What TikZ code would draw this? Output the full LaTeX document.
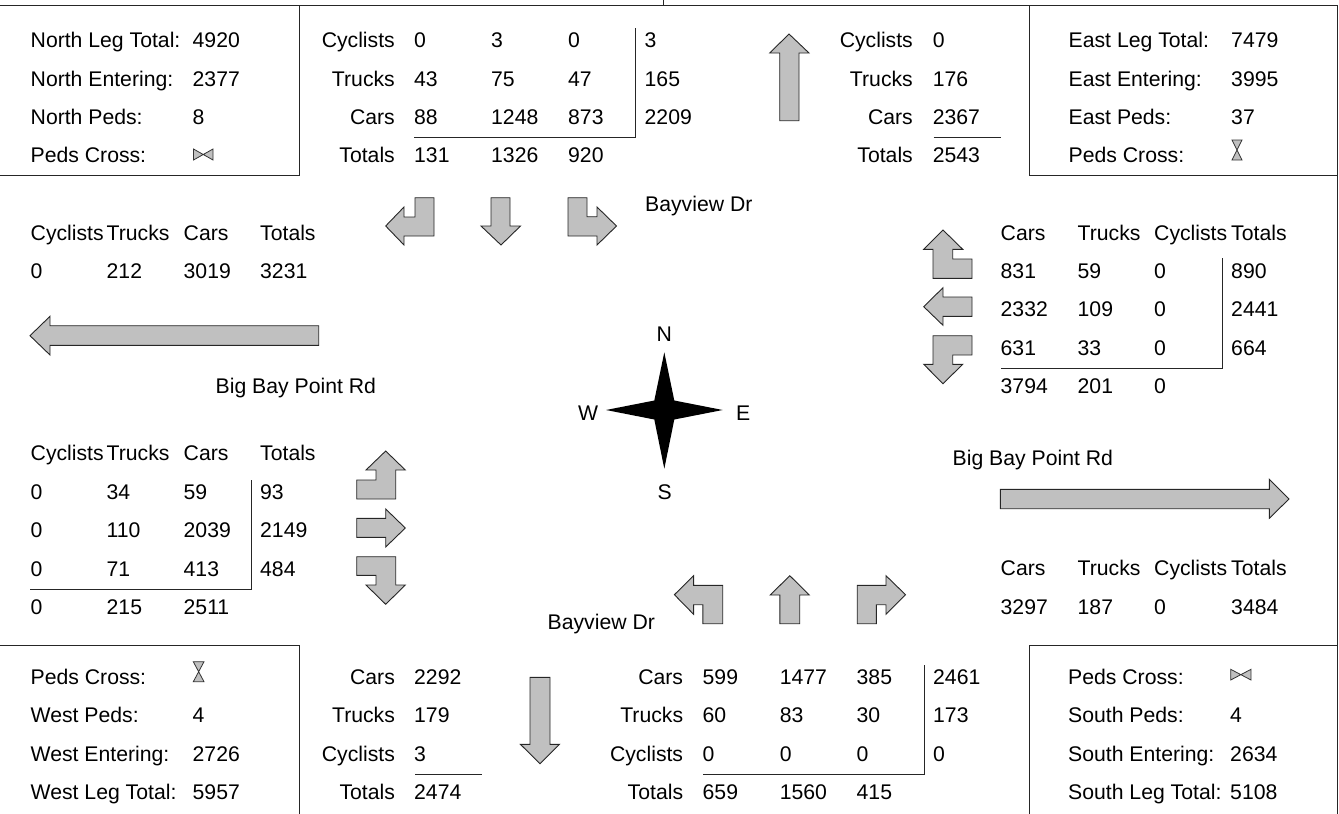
\documentclass[tikz,border=0pt]{standalone}
\usepackage{fontspec}
\setmainfont{Liberation Sans}
\definecolor{arrowgray}{RGB}{192,192,192}
\tikzset{
  L/.style={inner sep=0pt,anchor=base west,font=\fontsize{21.2}{24}\selectfont},
  R/.style={inner sep=0pt,anchor=base east,font=\fontsize{21.2}{24}\selectfont},
  arrowshape/.style={draw=black!85,fill=arrowgray,line width=0.9pt,line join=miter},
  rulei/.style={draw=black!85,line width=0.9pt},
  symb/.style={draw=black!80,fill=arrowgray,line width=0.8pt}
}
\newcommand{\T}[3]{\node[L] at (#1-1,#2) {#3};}
\newcommand{\Rt}[3]{\node[R] at (#1,#2) {#3};}
\begin{document}
\begin{tikzpicture}[x=1pt,y=-1pt]
\useasboundingbox (0,0) rectangle (1339,814);
% frame
\draw[rulei] (0,5) -- (1337.4,5) -- (1337.4,814);
\draw[rulei] (663,0) -- (663,5);
\draw[rulei] (0,175) -- (299.5,175) -- (299.5,5);
\draw[rulei] (1029.5,5) -- (1029.5,175) -- (1337.4,175);
\draw[rulei] (0,645.7) -- (299.5,645.7) -- (299.5,814);
\draw[rulei] (1029.5,814) -- (1029.5,645.7) -- (1337.4,645.7);
% NW box
\T{31.5}{47.6}{North Leg Total:}\T{193.5}{47.6}{4920}
\T{31.5}{86}{North Entering:}\T{193.5}{86}{2377}
\T{31.5}{124.3}{North Peds:}\T{193.5}{124.3}{8}
\T{31.5}{162.6}{Peds Cross:}
\draw[symb] (193.5,149) -- (213,160) -- (213,149) -- (193.5,160) -- cycle;
% N table
\Rt{395}{47.6}{Cyclists}\T{415}{47.6}{0}\T{492}{47.6}{3}\T{569}{47.6}{0}\T{645.5}{47.6}{3}
\Rt{395}{86}{Trucks}\T{415}{86}{43}\T{492}{86}{75}\T{569}{86}{47}\T{645.5}{86}{165}
\Rt{395}{124.3}{Cars}\T{415}{124.3}{88}\T{492}{124.3}{1248}\T{569}{124.3}{873}\T{645.5}{124.3}{2209}
\Rt{395}{162.6}{Totals}\T{415}{162.6}{131}\T{492}{162.6}{1326}\T{569}{162.6}{920}
\draw[rulei] (635,28) -- (635,137.5) -- (414,137.5);
% N exit
\draw[arrowshape] (789,34) -- (809,53) -- (799,53) -- (799,120.7) -- (779.7,120.7) -- (779.7,53) -- (769.7,53) -- cycle;
\Rt{913}{47.6}{Cyclists}\T{933.6}{47.6}{0}
\Rt{913}{86}{Trucks}\T{933.6}{86}{176}
\Rt{913}{124.3}{Cars}\T{933.6}{124.3}{2367}
\Rt{913}{162.6}{Totals}\T{933.6}{162.6}{2543}
\draw[rulei] (933.6,137.5) -- (1001,137.5);
% NE box
\T{1069.5}{47.6}{East Leg Total:}\T{1232}{47.6}{7479}
\T{1069.5}{86}{East Entering:}\T{1232}{86}{3995}
\T{1069.5}{124.3}{East Peds:}\T{1232}{124.3}{37}
\T{1069.5}{162.6}{Peds Cross:}
\draw[symb] (1232,140) -- (1242,140) -- (1232,160) -- (1242,160) -- cycle;
% N approach arrows
\draw[arrowshape] (415,197.7) -- (434,197.7) -- (434,236) -- (404,236) -- (404,245) -- (385.7,226) -- (404,207) -- (404,217) -- (415,217) -- cycle;
\draw[arrowshape] (491,197.7) -- (510,197.7) -- (510,226) -- (520.5,226) -- (501,245) -- (481,226) -- (491,226) -- cycle;
\draw[arrowshape] (568,197.7) -- (587,197.7) -- (587,216.7) -- (597,216.7) -- (597,207) -- (616.5,226) -- (597,245) -- (597,236) -- (568,236) -- cycle;
\T{646}{211}{Bayview Dr}
% W top table
\T{31.5}{240}{Cyclists}\T{107.5}{240}{Trucks}\T{184.5}{240}{Cars}\T{261}{240}{Totals}
\T{31.5}{278}{0}\T{107.5}{278}{212}\T{184.5}{278}{3019}\T{261}{278}{3231}
\draw[arrowshape] (30,335.7) -- (50,316.3) -- (50,325.7) -- (318.7,325.7) -- (318.7,345.3) -- (50,345.3) -- (50,355) -- cycle;
\T{216.5}{393.3}{Big Bay Point Rd}
% W lower table
\T{31.5}{460}{Cyclists}\T{107.5}{460}{Trucks}\T{184.5}{460}{Cars}\T{261}{460}{Totals}
\T{31.5}{499.3}{0}\T{107.5}{499.3}{34}\T{184.5}{499.3}{59}\T{261}{499.3}{93}
\T{31.5}{537.7}{0}\T{107.5}{537.7}{110}\T{184.5}{537.7}{2039}\T{261}{537.7}{2149}
\T{31.5}{576}{0}\T{107.5}{576}{71}\T{184.5}{576}{413}\T{261}{576}{484}
\T{31.5}{614}{0}\T{107.5}{614}{215}\T{184.5}{614}{2511}
\draw[rulei] (251.3,480) -- (251.3,589) -- (30,589);
% W approach arrows
\draw[arrowshape] (385.7,451) -- (405.3,470) -- (395.7,470) -- (395.7,499) -- (356.7,499) -- (356.7,480) -- (376,480) -- (376,470) -- (366,470) -- cycle;
\draw[arrowshape] (356.7,518.3) -- (385.7,518.3) -- (385.7,509) -- (405.3,528) -- (385.7,547) -- (385.7,537.3) -- (356.7,537.3) -- cycle;
\draw[arrowshape] (356.7,556.7) -- (395.7,556.7) -- (395.7,585) -- (405.3,585) -- (385.7,604.3) -- (366,585) -- (376,585) -- (376,575.3) -- (356.7,575.3) -- cycle;
% E table
\T{1001.5}{240}{Cars}\T{1078.5}{240}{Trucks}\T{1155}{240}{Cyclists}\T{1232}{240}{Totals}
\T{1001.5}{278.3}{831}\T{1078.5}{278.3}{59}\T{1155}{278.3}{0}\T{1232}{278.3}{890}
\T{1001.5}{316.5}{2332}\T{1078.5}{316.5}{109}\T{1155}{316.5}{0}\T{1232}{316.5}{2441}
\T{1001.5}{355}{631}\T{1078.5}{355}{33}\T{1155}{355}{0}\T{1232}{355}{664}
\T{1001.5}{393}{3794}\T{1078.5}{393}{201}\T{1155}{393}{0}
\draw[rulei] (1222.4,258) -- (1222.4,368) -- (1001,368);
% E approach arrows
\draw[arrowshape] (943,230) -- (962.7,249.3) -- (952.7,249.3) -- (952.7,259) -- (972,259) -- (972,278.3) -- (933,278.3) -- (933,249.3) -- (923.7,249.3) -- cycle;
\draw[arrowshape] (923.7,306.7) -- (943,287.7) -- (943,297) -- (972,297) -- (972,316.3) -- (943,316.3) -- (943,325.3) -- cycle;
\draw[arrowshape] (972,335.7) -- (933,335.7) -- (933,364.3) -- (923.7,364.3) -- (943,383.7) -- (962.7,364.3) -- (952.7,364.3) -- (952.7,355) -- (972,355) -- cycle;
% compass
\fill[black] (664.3,352.3) -- (674.3,400.5) -- (722.7,410) -- (674.3,419.5) -- (664.3,468.7) -- (654.3,419.5) -- (606,410) -- (654.3,400.5) -- cycle;
\node[L,anchor=base] at (664.3,341.7) {N};
\node[L,anchor=base] at (664.8,499) {S};
\node[L] at (736,420) {E};
\node[L] at (578,420) {W};
% E exit
\T{953.5}{465.7}{Big Bay Point Rd}
\draw[arrowshape] (1000.3,489.3) -- (1269.3,489.3) -- (1269.3,479.3) -- (1289,499) -- (1269.3,518.3) -- (1269.3,508.7) -- (1000.3,508.7) -- cycle;
\T{1001.5}{575.7}{Cars}\T{1078.5}{575.7}{Trucks}\T{1155}{575.7}{Cyclists}\T{1232}{575.7}{Totals}
\T{1001.5}{614}{3297}\T{1078.5}{614}{187}\T{1155}{614}{0}\T{1232}{614}{3484}
% S approach arrows
\T{548.5}{629}{Bayview Dr}
\draw[arrowshape] (674.4,594.7) -- (693.6,575.7) -- (693.6,585.3) -- (722.7,585.3) -- (722.7,623.7) -- (702.8,623.7) -- (702.8,604.7) -- (693.6,604.7) -- (693.6,614.3) -- cycle;
\draw[arrowshape] (789.8,575.7) -- (809.3,595) -- (799.7,595) -- (799.7,623.7) -- (779.8,623.7) -- (779.8,595) -- (770.2,595) -- cycle;
\draw[arrowshape] (857.2,623.7) -- (857.2,585.3) -- (886,585.3) -- (886,575.7) -- (905.5,594.7) -- (886,614.3) -- (886,604.7) -- (876.4,604.7) -- (876.4,623.7) -- cycle;
% SW box
\T{31.5}{684.3}{Peds Cross:}
\draw[symb] (193.3,661.7) -- (204,661.7) -- (193.3,681.7) -- (204,681.7) -- cycle;
\T{31.5}{722.7}{West Peds:}\T{193.5}{722.7}{4}
\T{31.5}{761}{West Entering:}\T{193.5}{761}{2726}
\T{31.5}{799.3}{West Leg Total:}\T{193.5}{799.3}{5957}
% S exit table
\Rt{395.1}{684.3}{Cars}\T{415}{684.3}{2292}
\Rt{395.1}{722.7}{Trucks}\T{415}{722.7}{179}
\Rt{395.1}{761}{Cyclists}\T{415}{761}{3}
\Rt{395.1}{799.3}{Totals}\T{415}{799.3}{2474}
\draw[rulei] (415,774) -- (482.1,774);
\draw[arrowshape] (530,677.3) -- (550,677.3) -- (550,744.3) -- (559.5,744.3) -- (540,763.7) -- (520.4,744.3) -- (530,744.3) -- cycle;
% S table
\Rt{683.3}{684.3}{Cars}\T{703.5}{684.3}{599}\T{780.6}{684.3}{1477}\T{857.5}{684.3}{385}\T{934}{684.3}{2461}
\Rt{683.3}{722.7}{Trucks}\T{703.5}{722.7}{60}\T{780.6}{722.7}{83}\T{857.5}{722.7}{30}\T{934}{722.7}{173}
\Rt{683.3}{761}{Cyclists}\T{703.5}{761}{0}\T{780.6}{761}{0}\T{857.5}{761}{0}\T{934}{761}{0}
\Rt{683.3}{799.3}{Totals}\T{703.5}{799.3}{659}\T{780.6}{799.3}{1560}\T{857.5}{799.3}{415}
\draw[rulei] (924.6,665) -- (924.6,774) -- (703.2,774);
% SE box
\T{1069}{684.3}{Peds Cross:}
\draw[symb] (1230.7,669.3) -- (1251,680) -- (1251,669.3) -- (1230.7,680) -- cycle;
\T{1069}{722.7}{South Peds:}\T{1231}{722.7}{4}
\T{1069}{761}{South Entering:}\T{1231}{761}{2634}
\T{1069}{799.3}{South Leg Total:}\T{1231}{799.3}{5108}
\end{tikzpicture}
\end{document}
